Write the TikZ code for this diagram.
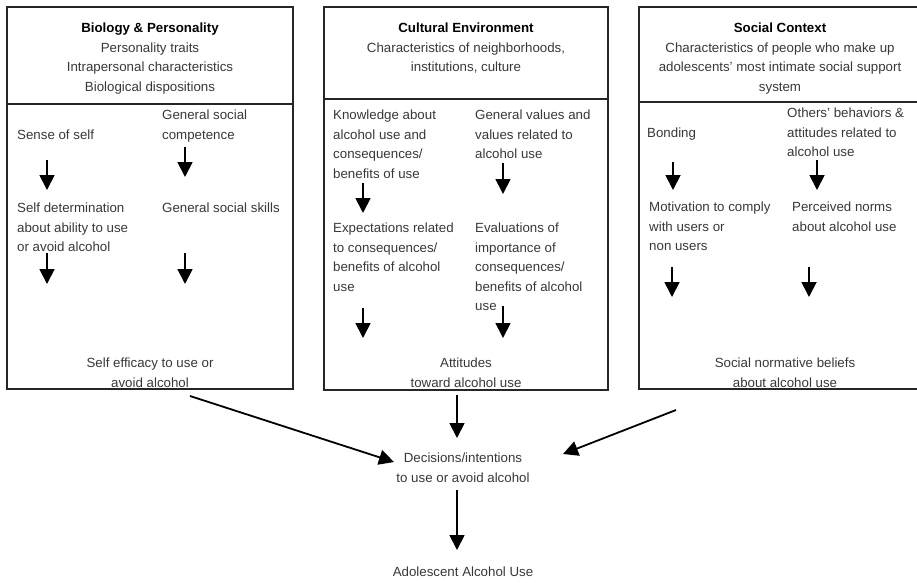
\documentclass[tikz,border=0pt]{standalone}
\usepackage{fontspec}
\setmainfont{Liberation Sans}
\usetikzlibrary{arrows.meta}
\begin{document}
\begin{tikzpicture}[x=1pt,y=-1pt,
  txt/.style={inner sep=0pt, font=\fontsize{13.3}{19.5}\selectfont, text=black!78},
  lefttxt/.style={txt, anchor=north west, align=left},
  ctrtxt/.style={txt, anchor=north, align=center},
  panel/.style={draw=black!85, line width=1.3pt},
  arr/.style={draw=black, line width=1.8pt, -{Triangle[width=15pt,length=15pt]}}
]
\useasboundingbox (0,0) rectangle (917,582);

% panels
\draw[panel] (7,7) rectangle (293,389);
\draw[panel] (7,104) -- (293,104);
\draw[panel] (324,7) rectangle (608,390);
\draw[panel] (324,99) -- (608,99);
\draw[panel] (639,7) rectangle (935,389);
\draw[panel] (639,102) -- (935,102);

% left panel
\node[ctrtxt] (bp) at (150,23) {\textcolor{black}{\bfseries Biology \& Personality}\\Personality traits\\Intrapersonal characteristics\\Biological dispositions};
\node[lefttxt] (sos) at (17,130) {Sense of self};
\node[lefttxt] (gsc) at (162,110) {General social\\competence};
\node[lefttxt] (sd) at (17,203) {Self determination\\about ability to use\\or avoid alcohol};
\node[lefttxt] (gss) at (162,203) {General social skills};
\node[ctrtxt] (se) at (150,358) {Self efficacy to use or\\avoid alcohol};

% middle panel
\node[ctrtxt] (ce) at (466,23) {\textcolor{black}{\bfseries Cultural Environment}\\Characteristics of neighborhoods,\\institutions, culture};
\node[lefttxt] (kn) at (333,110) {Knowledge about\\alcohol use and\\consequences/\\benefits of use};
\node[lefttxt] (gv) at (475,110) {General values and\\values related to\\alcohol use};
\node[lefttxt] (ex) at (333,223) {Expectations related\\to consequences/\\benefits of alcohol\\use};
\node[lefttxt] (ev) at (475,223) {Evaluations of\\importance of\\consequences/\\benefits of alcohol\\use};
\node[ctrtxt] (at) at (466,358) {Attitudes\\toward alcohol use};

% right panel
\node[ctrtxt] (sc) at (780,23) {\textcolor{black}{\bfseries Social Context}\\Characteristics of people who make up\\adolescents' most intimate social support\\system};
\node[lefttxt] (bo) at (647,128) {Bonding};
\node[lefttxt] (ob) at (787,108) {Others' behaviors \&\\attitudes related to\\alcohol use};
\node[lefttxt] (mo) at (649,202) {Motivation to comply\\with users or\\non users};
\node[lefttxt] (pn) at (792,202) {Perceived norms\\about alcohol use};
\node[ctrtxt] (sn) at (785,358) {Social normative beliefs\\about alcohol use};

% bottom
\node[ctrtxt] (dec) at (463,453) {Decisions/intentions\\to use or avoid alcohol};
\node[ctrtxt] (aau) at (463,567) {Adolescent Alcohol Use};

% arrow end points
\coordinate (l1s) at (47,160);  \coordinate (l1e) at (47,190);
\coordinate (l2s) at (185,147); \coordinate (l2e) at (185,177);
\coordinate (l3s) at (47,253);  \coordinate (l3e) at (47,284);
\coordinate (l4s) at (185,253); \coordinate (l4e) at (185,284);
\coordinate (m1s) at (363,183); \coordinate (m1e) at (363,213);
\coordinate (m2s) at (503,163); \coordinate (m2e) at (503,194);
\coordinate (m3s) at (363,308); \coordinate (m3e) at (363,338);
\coordinate (m4s) at (503,306); \coordinate (m4e) at (503,338);
\coordinate (r1s) at (673,162); \coordinate (r1e) at (673,190);
\coordinate (r2s) at (817,160); \coordinate (r2e) at (817,190);
\coordinate (r3s) at (672,267); \coordinate (r3e) at (672,297);
\coordinate (r4s) at (809,267); \coordinate (r4e) at (809,297);
\coordinate (b1s) at (190,396); \coordinate (b1e) at (394,462);
\coordinate (b2s) at (457,395); \coordinate (b2e) at (457,438);
\coordinate (b3s) at (676,410); \coordinate (b3e) at (563,454);
\coordinate (b4s) at (457,490); \coordinate (b4e) at (457,550);

\foreach \a in {l1,l2,l3,l4,m1,m2,m3,m4,r1,r2,r3,r4,b1,b2,b3,b4}
  \draw[arr] (\a s) -- (\a e);
\end{tikzpicture}
\end{document}
